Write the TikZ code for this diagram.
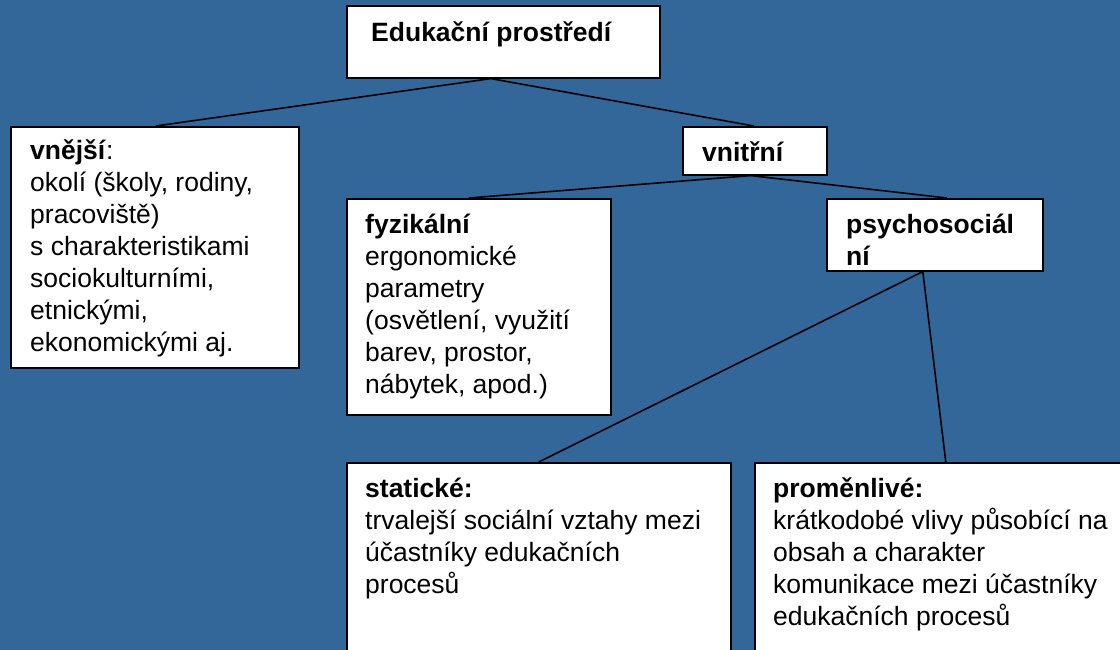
\documentclass[tikz,border=0pt]{standalone}
\usepackage{fontspec}
\setmainfont{Liberation Sans}
\usetikzlibrary{calc}
\definecolor{bg}{RGB}{52,103,153}
\begin{document}
\begin{tikzpicture}[x=1pt,y=-1pt,
  box/.style={draw=black, fill=white, line width=1.6pt, inner sep=0pt, anchor=north west},
  txt/.style={anchor=base west, align=left, inner sep=0pt, font=\fontsize{26.5}{32}\selectfont},
  conn/.style={line width=1.6pt, draw=black}]
\fill[bg] (0,0) rectangle (1120,650);
\useasboundingbox (0,0) rectangle (1120,650);
% boxes
\node[box, minimum width=313pt, minimum height=72pt] (top) at (346,5) {};
\node[box, minimum width=288pt, minimum height=241pt] (vnejsi) at (10,126) {};
\node[box, minimum width=144pt, minimum height=48pt] (vnitrni) at (682,126) {};
\node[box, minimum width=264pt, minimum height=216pt] (fyz) at (346,198) {};
\node[box, minimum width=216pt, minimum height=72pt] (psy) at (826,198) {};
\node[box, minimum width=384pt, minimum height=200pt] (stat) at (346,462) {};
\node[box, minimum width=382pt, minimum height=200pt] (prom) at (754,462) {};
% connectors
\draw[conn] ([xshift=-12.5pt]top.south) -- ([xshift=1pt]vnejsi.north);
\draw[conn] ([xshift=-12.5pt]top.south) -- ([xshift=-1pt]vnitrni.north);
\draw[conn] ([xshift=-4pt]vnitrni.south) -- ([xshift=-10pt]fyz.north);
\draw[conn] ([xshift=-4pt]vnitrni.south) -- ([xshift=12pt]psy.north);
\draw[conn] ([xshift=-12pt]psy.south) -- (stat.north);
\draw[conn] ([xshift=-12pt]psy.south) -- (prom.north);
% texts (anchor = baseline of the last line)
\node[txt] (ttop) at (371,42) {\textbf{Edukační prostředí}};
\node[txt] (tvnejsi) at (30,351) {\textbf{vnější}:\\okolí (školy, rodiny,\\pracoviště)\\s charakteristikami\\sociokulturními,\\etnickými,\\ekonomickými aj.};
\node[txt] (tvnitrni) at (702,162) {\textbf{vnitřní}};
\node[txt] (tfyz) at (365,393) {\textbf{fyzikální}\\ergonomické\\parametry\\(osvětlení, využití\\barev, prostor,\\nábytek, apod.)};
\node[txt] (tpsy) at (846,265) {\textbf{psychosociál}\\\textbf{ní}};
\node[txt] (tstat) at (365,593) {\textbf{statické:}\\trvalejší sociální vztahy mezi\\účastníky edukačních\\procesů};
\node[txt] (tprom) at (773,625) {\textbf{proměnlivé:}\\krátkodobé vlivy působící na\\obsah a charakter\\komunikace mezi účastníky\\edukačních procesů};
\end{tikzpicture}
\end{document}
